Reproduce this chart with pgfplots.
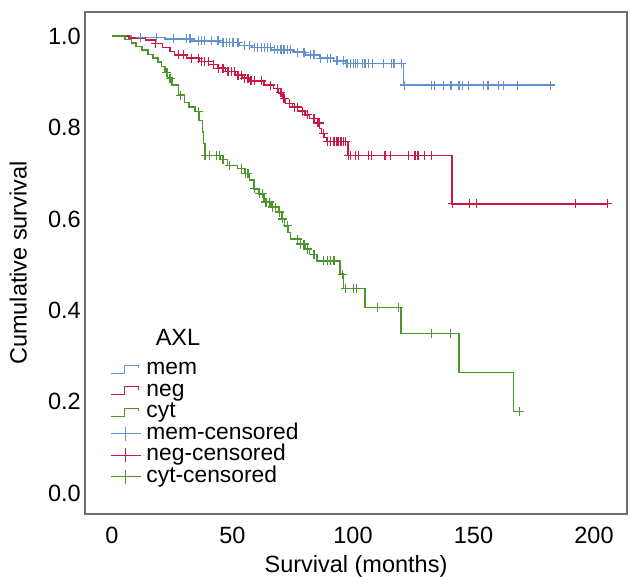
\documentclass[border=0pt]{standalone}
\usepackage{pgfplots}
\pgfplotsset{compat=1.18}
\usepackage{fontspec}
\setmainfont{Liberation Sans}
\definecolor{cmem}{RGB}{100,145,210}
\definecolor{cneg}{RGB}{205,25,65}
\definecolor{ccyt}{RGB}{75,150,45}
\definecolor{frame}{RGB}{110,110,110}
\begin{document}
\fontsize{23.5bp}{26bp}\selectfont
\begin{tikzpicture}
\useasboundingbox (-85bp,-63bp) rectangle (545bp,514bp);
\begin{axis}[
  at={(0,0)}, anchor=south west,
  scale only axis, width=542bp, height=502bp,
  xmin=-11.2, xmax=213.7, ymin=-0.046, ymax=1.053,
  xtick={0,50,100,150,200},
  ytick={0,0.2,0.4,0.6,0.8,1.0},
  y tick label style={/pgf/number format/fixed, /pgf/number format/fixed zerofill, /pgf/number format/precision=1},
  /pgf/number format/assume math mode=true,
  major tick length=0pt,
  axis line style={draw=frame, line width=1.3bp},
  x tick label style={inner sep=0pt, anchor=north, yshift=-13bp},
  y tick label style={inner sep=0pt, anchor=east, xshift=-4bp},
  tick label style={font=\fontsize{23.5bp}{26bp}\selectfont},
  label style={font=\fontsize{23.5bp}{26bp}\selectfont},
  xlabel={Survival (months)},
  ylabel={Cumulative survival},
  xlabel style={at={(axis description cs:0.5,-0.104)}, anchor=center},
  ylabel style={at={(axis description cs:-0.123,0.5)}, anchor=center},
  legend style={draw=none, fill=none, at={(axis description cs:0.0406,0.314)}, anchor=north west,
    font=\fontsize{22.8bp}{25bp}\selectfont, column sep=5bp,
    nodes={inner sep=0pt, text height=16bp, text depth=5.5bp}},
  legend cell align=left,
]
% step lines
\addplot[const plot, color=cmem, line width=1.5bp,
  legend image code/.code={\draw[cmem, line width=1.3bp] (0bp,-4bp) -- (14bp,-4bp) -- (14bp,4bp) -- (28bp,4bp) -- (28bp,1bp);}]
 coordinates {(0,1.0) (8,0.997) (22,0.994) (33,0.990) (45,0.986) (53,0.980) (58,0.975) (66,0.970) (75,0.965) (80,0.959) (86,0.952) (92,0.946) (97,0.940) (121,0.893) (183,0.893)};
\addlegendentry{mem}
\addplot[const plot, color=cneg, line width=1.5bp,
  legend image code/.code={\draw[cneg, line width=1.3bp] (0bp,-4bp) -- (14bp,-4bp) -- (14bp,4bp) -- (28bp,4bp) -- (28bp,1bp);}]
 coordinates {(0,1.0) (7,0.996) (14,0.992) (18,0.984) (21,0.975) (24,0.967) (26,0.959) (31,0.952) (36,0.945) (40,0.938) (44,0.930) (47,0.923) (51,0.915) (54,0.908) (57,0.902) (63,0.893) (67,0.886) (69,0.876) (71,0.864) (72,0.853) (75,0.845) (77,0.836) (80,0.828) (82,0.820) (84,0.810) (86,0.798) (87,0.787) (88,0.778) (89,0.769) (98,0.739) (141,0.633) (206,0.633)};
\addlegendentry{neg}
\addplot[const plot, color=ccyt, line width=1.5bp,
  legend image code/.code={\draw[ccyt, line width=1.3bp] (0bp,-4bp) -- (14bp,-4bp) -- (14bp,4bp) -- (28bp,4bp) -- (28bp,1bp);}]
 coordinates {(0,1.0) (5.5,0.993) (8,0.985) (10,0.978) (12.5,0.970) (15,0.960) (17,0.952) (19,0.943) (20.5,0.934) (22,0.920) (23,0.908) (25,0.893) (27.5,0.871) (30,0.855) (32,0.845) (34.5,0.835) (36,0.815) (37.5,0.790) (38,0.765) (38.5,0.739) (45,0.730) (48,0.717) (52,0.710) (55,0.699) (57,0.685) (59,0.666) (61,0.655) (63,0.637) (66,0.626) (69,0.615) (70.5,0.600) (71.5,0.585) (73,0.570) (74,0.556) (77,0.545) (80,0.534) (82,0.522) (85,0.508) (94.7,0.479) (96,0.448) (105,0.406) (120,0.349) (144,0.264) (166.6,0.178) (169,0.178)};
\addlegendentry{cyt}
% censored marks
\addplot[only marks, mark=+, mark size=4.5bp, color=cmem, mark options={line width=1.2bp},
  legend image code/.code={\draw[cmem, line width=1.3bp] (0bp,0bp) -- (30bp,0bp); \draw[cmem, line width=1.3bp] (15bp,-7bp) -- (15bp,7bp);}]
 coordinates {(11.8,0.997) (18.6,0.997) (25.5,0.994) (31,0.994) (32.4,0.994) (35.8,0.990) (37.2,0.990) (38.5,0.990) (41.3,0.990) (44,0.990) (46.1,0.986) (47.5,0.986) (48.8,0.986) (50.2,0.986) (52.3,0.986) (55,0.980) (57.1,0.980) (59.1,0.975) (60.5,0.975) (61.9,0.975) (63.2,0.975) (64.6,0.975) (65.9,0.975) (67.3,0.970) (68.7,0.970) (70.1,0.970) (71.4,0.970) (72.8,0.970) (74.2,0.970) (76.9,0.965) (79.7,0.965) (82.4,0.959) (83.8,0.959) (86.5,0.952) (89.3,0.952) (90.7,0.952) (93.4,0.946) (96.2,0.946) (97.5,0.940) (98.9,0.940) (100.3,0.940) (101,0.940) (102,0.940) (104,0.940) (105,0.940) (106.5,0.940) (108,0.940) (112.6,0.940) (116,0.940) (117,0.940) (120,0.940) (121.4,0.893) (132.5,0.893) (133.7,0.893) (137.4,0.893) (140.7,0.893) (144,0.893) (145.3,0.893) (148,0.893) (154,0.893) (156,0.893) (160.5,0.893) (162.6,0.893) (168.3,0.893) (182,0.893)};
\addlegendentry{mem-censored}
\addplot[only marks, mark=+, mark size=4.5bp, color=cneg, mark options={line width=1.2bp},
  legend image code/.code={\draw[cneg, line width=1.3bp] (0bp,0bp) -- (30bp,0bp); \draw[cneg, line width=1.3bp] (15bp,-7bp) -- (15bp,7bp);}]
 coordinates {(18.2,0.984) (27.6,0.959) (29.6,0.959) (33,0.952) (35.8,0.952) (37.2,0.945) (38.5,0.945) (39.9,0.945) (42,0.938) (44.2,0.930) (46.1,0.930) (48.1,0.923) (49.5,0.923) (50.9,0.923) (52.3,0.915) (53.6,0.915) (55,0.908) (56.4,0.908) (57.7,0.902) (59.1,0.902) (61.9,0.902) (65.9,0.893) (68.7,0.886) (70.1,0.876) (71.4,0.864) (73.5,0.853) (75.6,0.845) (76.9,0.845) (79,0.836) (81,0.828) (83.8,0.820) (85.2,0.810) (85.9,0.810) (87.9,0.787) (89.3,0.769) (90.7,0.769) (92.1,0.769) (93.4,0.769) (94.1,0.769) (95,0.769) (96.2,0.769) (96.9,0.769) (98.2,0.739) (98.9,0.739) (101,0.739) (102.3,0.739) (106.5,0.739) (107.8,0.739) (113.3,0.739) (115.4,0.739) (122.9,0.739) (125.7,0.739) (127,0.739) (129.8,0.739) (132.5,0.739) (141.2,0.633) (148.3,0.633) (151.3,0.633) (192.2,0.633) (205.5,0.633)};
\addlegendentry{neg-censored}
\addplot[only marks, mark=+, mark size=4.5bp, color=ccyt, mark options={line width=1.2bp},
  legend image code/.code={\draw[ccyt, line width=1.3bp] (0bp,0bp) -- (30bp,0bp); \draw[ccyt, line width=1.3bp] (15bp,-7bp) -- (15bp,7bp);}]
 coordinates {(22.8,0.920) (24.1,0.908) (28.3,0.871) (35.8,0.835) (38.6,0.739) (40.6,0.739) (43.3,0.739) (44.7,0.739) (46.1,0.730) (48.8,0.717) (53.6,0.710) (55.3,0.699) (56.4,0.699) (59.1,0.666) (61.2,0.655) (62.5,0.655) (63.9,0.637) (65.3,0.637) (66.7,0.626) (68,0.626) (69.4,0.615) (70.8,0.600) (72.8,0.585) (76.9,0.556) (78.3,0.545) (79.7,0.545) (81,0.534) (83.8,0.522) (87.9,0.508) (89.3,0.508) (90.7,0.508) (92.1,0.508) (95.5,0.479) (96.9,0.448) (100.3,0.448) (101.6,0.448) (110.2,0.406) (118.8,0.406) (132.5,0.349) (140.3,0.349) (169,0.178)};
\addlegendentry{cyt-censored}
\node[inner sep=0pt, font=\fontsize{23.5bp}{26bp}\selectfont] at (axis description cs:0.1716,0.3526) {AXL};
\end{axis}
\end{tikzpicture}
\end{document}
